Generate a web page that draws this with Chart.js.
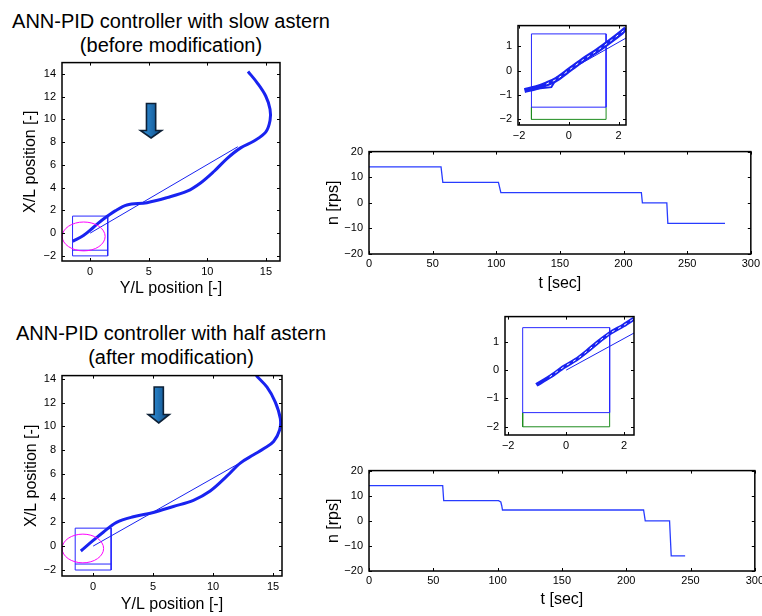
<!DOCTYPE html>
<html>
<head>
<meta charset="utf-8">
<script src="https://cdn.jsdelivr.net/npm/chart.js@4.4.0/dist/chart.umd.min.js"></script>
<style>
body { margin: 0; background: #fff; width: 762px; height: 616px; position: relative; overflow: hidden; font-family: 'Liberation Sans', Arial, sans-serif; }
canvas { position: absolute; }
.title { position: absolute; left: 0; width: 342px; text-align: center; font-size: 20px; line-height: 24px; color: #000; }
</style>
</head>
<body>
<div class="title" style="top:9px">ANN-PID controller with slow astern<br>(before modification)</div>
<div class="title" style="top:321px">ANN-PID controller with half astern<br>(after modification)</div>
<canvas id="trajSlow"></canvas>
<canvas id="insetSlow"></canvas>
<canvas id="timeSlow"></canvas>
<canvas id="trajHalf"></canvas>
<canvas id="insetHalf"></canvas>
<canvas id="timeHalf"></canvas>
<script>
// ---- data (Y/L is the horizontal axis, X/L the vertical one) ----
const slowYL = [13.47, 14.27, 14.98, 15.35, 15.35, 14.98, 13.98, 12.84, 11.7, 10.56, 9.42, 8.28, 6.56, 4.85, 3.14, 2.14, 1.14, 0.29, -0.57, -1.48];
const slowXL = [14.22, 13.2, 12.06, 10.9, 9.9, 8.88, 8.1, 7.5, 6.58, 5.42, 4.41, 3.69, 3.12, 2.68, 2.48, 1.96, 1.24, 0.52, -0.2, -0.72];
const slowJumpYL = [12.6, 0];
const slowJumpXL = [7.6, 0];

const halfYL = [13.6, 14.5, 15.19, 15.61, 15.55, 15.05, 14.21, 13.38, 12.27, 11.15, 9.76, 8.36, 6.69, 5.02, 3.35, 1.95, 0.84, 0, -1.03];
const halfXL = [14.25, 13.28, 12.04, 10.66, 9.7, 8.74, 8.13, 7.63, 6.94, 5.84, 4.6, 3.83, 3.31, 2.81, 2.45, 1.98, 1.16, 0.47, -0.41];
const halfJumpYL = [12.5, 0];
const halfJumpXL = [7.1, 0];

// zoomed end of the track
const insetSlowYL = [-1.78, -1.3, -0.9, -0.5, 0.04, 0.58, 1.12, 1.66, 2.13, 2.3];
const insetSlowXL = [-0.82, -0.7, -0.55, -0.36, 0.04, 0.44, 0.8, 1.2, 1.57, 1.72];
const insetSlowSpurYL = [-1.6, -0.7, -0.45];
const insetSlowSpurXL = [-0.78, -0.68, -0.25];
const insetSlowJumpYL = [0, 2.3];
const insetSlowJumpXL = [0, 1.33];

const insetHalfYL = [-1.03, -0.57, -0.07, 0.34, 0.71, 1.11, 1.49, 1.98, 2.34];
const insetHalfXL = [-0.52, -0.24, 0.12, 0.37, 0.66, 1.0, 1.29, 1.58, 1.82];
const insetHalfJumpYL = [0, 2.34];
const insetHalfJumpXL = [0, 1.31];

// target box
const boxYL = [-1.5, 1.5, 1.5, -1.5, -1.5];
const boxXL = [1.5, 1.5, -2, -2, 1.5];
const boxSplitYL = [-1.5, 1.5];
const boxSplitXL = [-1.5, -1.5];
const squareYL = [-1.5, 1.5, 1.5, -1.5, -1.5];
const squareXL = [1.5, 1.5, -1.5, -1.5, 1.5];
const lowerYL = [-1.5, -1.5, 1.5, 1.5];
const lowerXL = [-1.5, -2, -2, -1.5];

// propeller revolutions
const slowT = [0, 56.6, 58, 101.7, 103.6, 214, 214.8, 234, 234.8, 279.7];
const slowN = [14, 14, 8, 8, 4, 4, 0, 0, -8, -8];
const halfT = [0, 57.3, 58.1, 100.7, 102.5, 103.2, 103.8, 213.5, 214.8, 233.7, 235, 245.8];
const halfN = [14, 14, 8, 8, 7.5, 6, 4.3, 4.3, 0, 0, -14, -14];

// tick labels
const trajXTicks = [0, 5, 10, 15];
const trajYTicks = [-2, 0, 2, 4, 6, 8, 10, 12, 14];
const insetXTicks = [-2, 0, 2];
const insetYTicks = [-2, -1, 0, 1];
const timeXTicks = [0, 50, 100, 150, 200, 250, 300];
const timeYTicks = [-20, -10, 0, 10, 20];

// annotations (data units)
const slowEllipse = { cx: -0.55, cy: -0.29, rx: 1.83, ry: 1.27 };
const halfEllipse = { cx: -0.86, cy: -0.2, rx: 1.73, ry: 1.2 };
const slowArrow = { x: 5.2, top: 11.4, head: 9.03, tip: 8.37 };
const halfArrow = { x: 5.47, top: 13.3, head: 11.0, tip: 10.3 };

const FONT = "'Liberation Sans', Arial, sans-serif";
const BLUE = 'rgb(25,35,240)';

function pts(xs, ys) {
    return xs.map((x, i) => ({ x: x, y: ys[i] }));
}

function line(xs, ys, color, width, dash, tension) {
    return {
        data: pts(xs, ys), showLine: true, borderColor: color, borderWidth: width,
        borderDash: dash || [], tension: tension || 0, pointRadius: 0, fill: false, clip: 0
    };
}

function fmt(v) {
    return v < 0 ? '\u2212' + Math.abs(v) : String(v);
}

function scaleOpts(ax, dir, size) {
    return {
        type: 'linear', min: ax.min, max: ax.max,
        position: dir === 'x' ? 'bottom' : 'left',
        grid: { display: false, drawTicks: false },
        border: { display: false },
        ticks: {
            autoSkip: false, maxRotation: 0, padding: ax.pad, color: '#000',
            font: { family: FONT, size: 11 }, callback: v => fmt(v)
        },
        title: { display: !!ax.title, text: ax.title || '', color: '#000', font: { family: FONT, size: 16 }, padding: 0 },
        afterBuildTicks: s => { s.ticks = ax.ticks.map(v => ({ value: v })); },
        afterFit: s => { if (dir === 'x') s.height = size; else s.width = size; }
    };
}

// matlab style box with inward ticks
const boxPlugin = {
    id: 'matlabBox',
    afterDraw(chart) {
        const ctx = chart.ctx, a = chart.chartArea, sx = chart.scales.x, sy = chart.scales.y;
        const len = 3;
        ctx.save();
        ctx.strokeStyle = '#000';
        ctx.lineWidth = 1;
        ctx.beginPath();
        sx.ticks.forEach(t => {
            const px = Math.round(sx.getPixelForValue(t.value)) + 0.5;
            ctx.moveTo(px, a.bottom); ctx.lineTo(px, a.bottom - len);
            ctx.moveTo(px, a.top); ctx.lineTo(px, a.top + len);
        });
        sy.ticks.forEach(t => {
            const py = Math.round(sy.getPixelForValue(t.value)) + 0.5;
            ctx.moveTo(a.left, py); ctx.lineTo(a.left + len, py);
            ctx.moveTo(a.right, py); ctx.lineTo(a.right - len, py);
        });
        ctx.stroke();
        ctx.lineWidth = 1.5;
        ctx.strokeRect(a.left, a.top, a.right - a.left, a.bottom - a.top);
        ctx.restore();
    }
};

function extrasPlugin(ell, arrow) {
    return {
        id: 'extras',
        afterDatasetsDraw(chart) {
            const ctx = chart.ctx, sx = chart.scales.x, sy = chart.scales.y;
            ctx.save();
            const cx = sx.getPixelForValue(ell.cx), cy = sy.getPixelForValue(ell.cy);
            const rx = Math.abs(sx.getPixelForValue(ell.cx + ell.rx) - cx);
            const ry = Math.abs(sy.getPixelForValue(ell.cy + ell.ry) - cy);
            ctx.strokeStyle = '#ff00ff';
            ctx.lineWidth = 1;
            ctx.beginPath();
            ctx.ellipse(cx, cy, rx, ry, 0, 0, Math.PI * 2);
            ctx.stroke();

            const ax = sx.getPixelForValue(arrow.x);
            const y0 = sy.getPixelForValue(arrow.top), y1 = sy.getPixelForValue(arrow.head), y2 = sy.getPixelForValue(arrow.tip);
            ctx.beginPath();
            ctx.moveTo(ax - 4.6, y0); ctx.lineTo(ax + 4.6, y0); ctx.lineTo(ax + 4.6, y1);
            ctx.lineTo(ax + 10.6, y1); ctx.lineTo(ax, y2); ctx.lineTo(ax - 10.6, y1);
            ctx.lineTo(ax - 4.6, y1); ctx.closePath();
            const g = ctx.createLinearGradient(ax - 8, 0, ax + 8, 0);
            g.addColorStop(0, '#2f8fd8');
            g.addColorStop(1, '#12538f');
            ctx.fillStyle = g;
            ctx.fill();
            ctx.strokeStyle = '#0d2036';
            ctx.lineWidth = 1.6;
            ctx.stroke();
            ctx.restore();
        }
    };
}

function makeChart(id, f, xAxis, yAxis, datasets, extra) {
    const canvas = document.getElementById(id);
    const w = f.right - f.left + f.L + f.R;
    const h = f.bottom - f.top + f.T + f.B;
    canvas.width = w;
    canvas.height = h;
    canvas.style.left = (f.left - f.L) + 'px';
    canvas.style.top = (f.top - f.T) + 'px';
    canvas.style.width = w + 'px';
    canvas.style.height = h + 'px';
    return new Chart(canvas, {
        type: 'scatter',
        data: { datasets: datasets },
        options: {
            responsive: false, animation: false, devicePixelRatio: 1,
            layout: { padding: { left: 0, top: f.T, right: f.R, bottom: 0 } },
            plugins: { legend: { display: false }, tooltip: { enabled: false } },
            scales: { x: scaleOpts(xAxis, 'x', f.B), y: scaleOpts(yAxis, 'y', f.L) }
        },
        plugins: extra ? [boxPlugin, extra] : [boxPlugin]
    });
}

// first dataset in the list is drawn on top
makeChart('trajSlow', { left: 62, top: 60, right: 280, bottom: 261, L: 41, T: 10, R: 12, B: 37 },
    { min: -2.4, max: 16.2, ticks: trajXTicks, pad: 4, title: 'Y/L position [-]' },
    { min: -2.45, max: 15, ticks: trajYTicks, pad: 6, title: 'X/L position [-]' },
    [
        line(slowYL, slowXL, BLUE, 3, null, 0.35),
        line(slowJumpYL, slowJumpXL, BLUE, 1),
        line(boxSplitYL, boxSplitXL, 'rgb(40,40,255)', 1),
        line(boxYL, boxXL, 'rgb(40,40,255)', 1)
    ], extrasPlugin(slowEllipse, slowArrow));

makeChart('insetSlow', { left: 518, top: 23, right: 626, bottom: 125, L: 30, T: 10, R: 12, B: 22 },
    { min: -2.04, max: 2.3, ticks: insetXTicks, pad: 4 },
    { min: -2.23, max: 1.84, ticks: insetYTicks, pad: 6 },
    [
        line(insetSlowYL.slice(2), insetSlowXL.slice(2), '#fff', 1, [3, 4], 0.3),
        line(insetSlowYL, insetSlowXL, BLUE, 5, null, 0.3),
        line(insetSlowSpurYL, insetSlowSpurXL, BLUE, 2),
        line(insetSlowJumpYL, insetSlowJumpXL, BLUE, 1),
        line(squareYL, squareXL, 'rgb(40,40,255)', 1),
        line(lowerYL, lowerXL, 'rgb(30,140,30)', 1)
    ]);

makeChart('timeSlow', { left: 369, top: 149, right: 753, bottom: 254, L: 45, T: 10, R: 10, B: 39 },
    { min: 0, max: 300, ticks: timeXTicks, pad: 3, title: 't [sec]' },
    { min: -20, max: 20, ticks: timeYTicks, pad: 6, title: 'n [rps]' },
    [line(slowT, slowN, 'rgb(40,60,255)', 1.3)]);

makeChart('trajHalf', { left: 62, top: 373, right: 282, bottom: 576, L: 40, T: 10, R: 12, B: 38 },
    { min: -2.6, max: 15.75, ticks: trajXTicks, pad: 4, title: 'Y/L position [-]' },
    { min: -2.5, max: 14.25, ticks: trajYTicks, pad: 6, title: 'X/L position [-]' },
    [
        line(halfYL, halfXL, BLUE, 3, null, 0.35),
        line(halfJumpYL, halfJumpXL, BLUE, 1),
        line(boxSplitYL, boxSplitXL, 'rgb(40,40,255)', 1),
        line(boxYL, boxXL, 'rgb(40,40,255)', 1)
    ], extrasPlugin(halfEllipse, halfArrow));

makeChart('insetHalf', { left: 505, top: 314, right: 634, bottom: 435, L: 30, T: 10, R: 12, B: 22 },
    { min: -2.11, max: 2.34, ticks: insetXTicks, pad: 4 },
    { min: -2.29, max: 1.89, ticks: insetYTicks, pad: 6 },
    [
        line(insetHalfYL.slice(1), insetHalfXL.slice(1), '#fff', 1, [3, 4], 0.3),
        line(insetHalfYL, insetHalfXL, BLUE, 4, null, 0.3),
        line(insetHalfJumpYL, insetHalfJumpXL, BLUE, 1),
        line(squareYL, squareXL, 'rgb(40,40,255)', 1),
        line(lowerYL, lowerXL, 'rgb(30,140,30)', 1)
    ]);

makeChart('timeHalf', { left: 369, top: 468, right: 757, bottom: 571, L: 45, T: 10, R: 10, B: 38 },
    { min: 0, max: 300, ticks: timeXTicks, pad: 3, title: 't [sec]' },
    { min: -20, max: 20, ticks: timeYTicks, pad: 6, title: 'n [rps]' },
    [line(halfT, halfN, 'rgb(40,60,255)', 1.3)]);
</script>
</body>
</html>
